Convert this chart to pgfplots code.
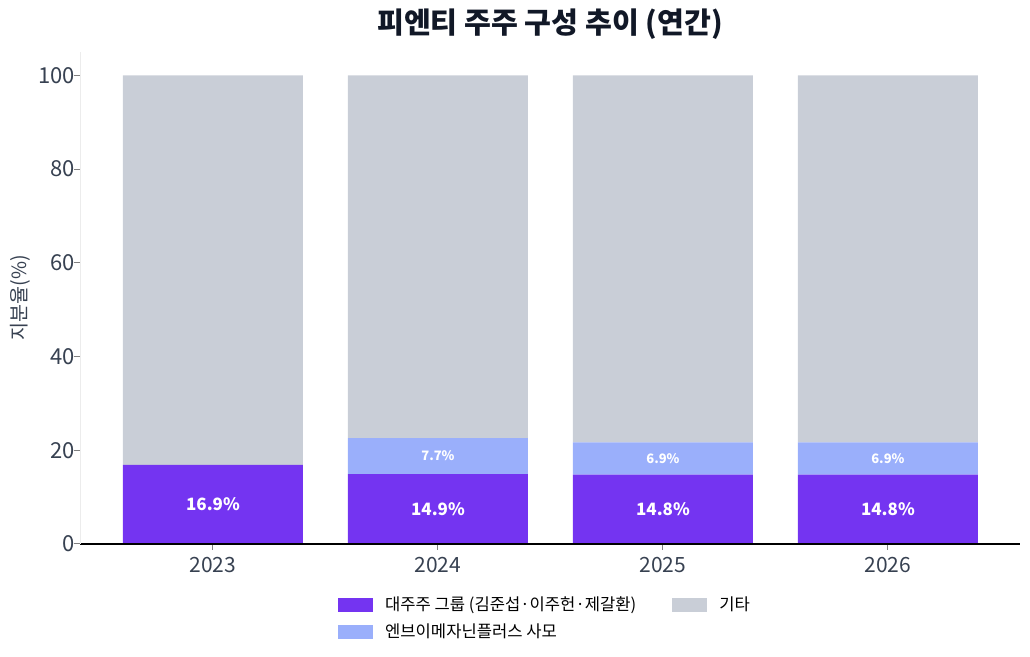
\documentclass[border=0pt]{standalone}
\usepackage{pgfplots}
\pgfplotsset{compat=1.18}
\usepackage{fontspec}
\setmainfont{Noto Sans CJK KR}

\definecolor{major}{HTML}{7434F1}
\definecolor{nv}{HTML}{9AAFFB}
\definecolor{etc}{HTML}{C9CED7}
\definecolor{ticktext}{HTML}{374151}
\definecolor{titletext}{HTML}{111827}

\begin{document}
\begin{tikzpicture}
\begin{axis}[
    set layers,
    scale only axis,
    width=470pt, height=246pt,
    ybar stacked, bar width=0.8,
    xmin=-0.591, xmax=3.587,
    ymin=0, ymax=105,
    xtick={0,1,2,3},
    xticklabels={2023,2024,2025,2026},
    ytick={0,20,40,60,80,100},
    axis lines*=left,
    x axis line style={black, line width=0.6pt},
    y axis line style={gray!15, line width=0.5pt},
    tick align=outside,
    major tick length=3pt,
    tick style={gray, line width=0.5pt},
    /pgf/number format/assume math mode=true,
    xticklabel style={font=\fontsize{10.5}{12}\selectfont, text=ticktext},
    yticklabel style={font=\fontsize{11}{13}\selectfont, text=ticktext, xshift=4pt},
    ylabel={지분율(\%)},
    ylabel style={font=\fontsize{9.8}{11}\selectfont, text=ticktext},
    ylabel shift=-3pt,
    clip=false,
    legend style={at={(0.5,-0.09)}, anchor=north, draw=none,
        legend columns=2, font=\fontsize{8.3}{10}\selectfont,
        /tikz/every even column/.append style={column sep=12pt},
        nodes={inner xsep=6pt},
        row sep=1pt},
    legend cell align=left,
    legend image code/.code={\fill[#1, draw=none] (0pt,-3.5pt) rectangle (17.5pt,3.5pt);},
]
\addlegendimage{fill=major, draw=none}
\addlegendentry{대주주 그룹 (김준섭·이주헌·제갈환)}
\addlegendimage{fill=etc, draw=none}
\addlegendentry{기타}
\addlegendimage{fill=nv, draw=none}
\addlegendentry{엔브이메자닌플러스 사모}

\addplot[fill=major, draw=none, forget plot, on layer=axis background] coordinates {(0,16.9) (1,14.9) (2,14.8) (3,14.8)};
\addplot[fill=nv, draw=none, forget plot, on layer=axis background] coordinates {(0,0) (1,7.7) (2,6.9) (3,6.9)};
\addplot[fill=etc, draw=none, forget plot, on layer=axis background] coordinates {(0,83.1) (1,77.4) (2,78.3) (3,78.3)};

\node[text=white, font=\bfseries\fontsize{8.5}{10}\selectfont] at (axis cs:0,8.45) {16.9\%};
\node[text=white, font=\bfseries\fontsize{8.5}{10}\selectfont] at (axis cs:1,7.45) {14.9\%};
\node[text=white, font=\bfseries\fontsize{8.5}{10}\selectfont] at (axis cs:2,7.4) {14.8\%};
\node[text=white, font=\bfseries\fontsize{8.5}{10}\selectfont] at (axis cs:3,7.4) {14.8\%};
\node[text=white, font=\bfseries\fontsize{6.5}{8}\selectfont] at (axis cs:1,18.75) {7.7\%};
\node[text=white, font=\bfseries\fontsize{6.5}{8}\selectfont] at (axis cs:2,18.25) {6.9\%};
\node[text=white, font=\bfseries\fontsize{6.5}{8}\selectfont] at (axis cs:3,18.25) {6.9\%};

\node[text=titletext, font=\bfseries\fontsize{14.6}{18}\selectfont] at (rel axis cs:0.5,1) [yshift=14pt] {피엔티 주주 구성 추이 (연간)};

\coordinate (sw) at (rel axis cs:0,0);
\end{axis}
\pgfresetboundingbox
\path (sw) ++(-40pt,-56.5pt) rectangle ++(515pt,328.5pt);
\end{tikzpicture}
\end{document}
